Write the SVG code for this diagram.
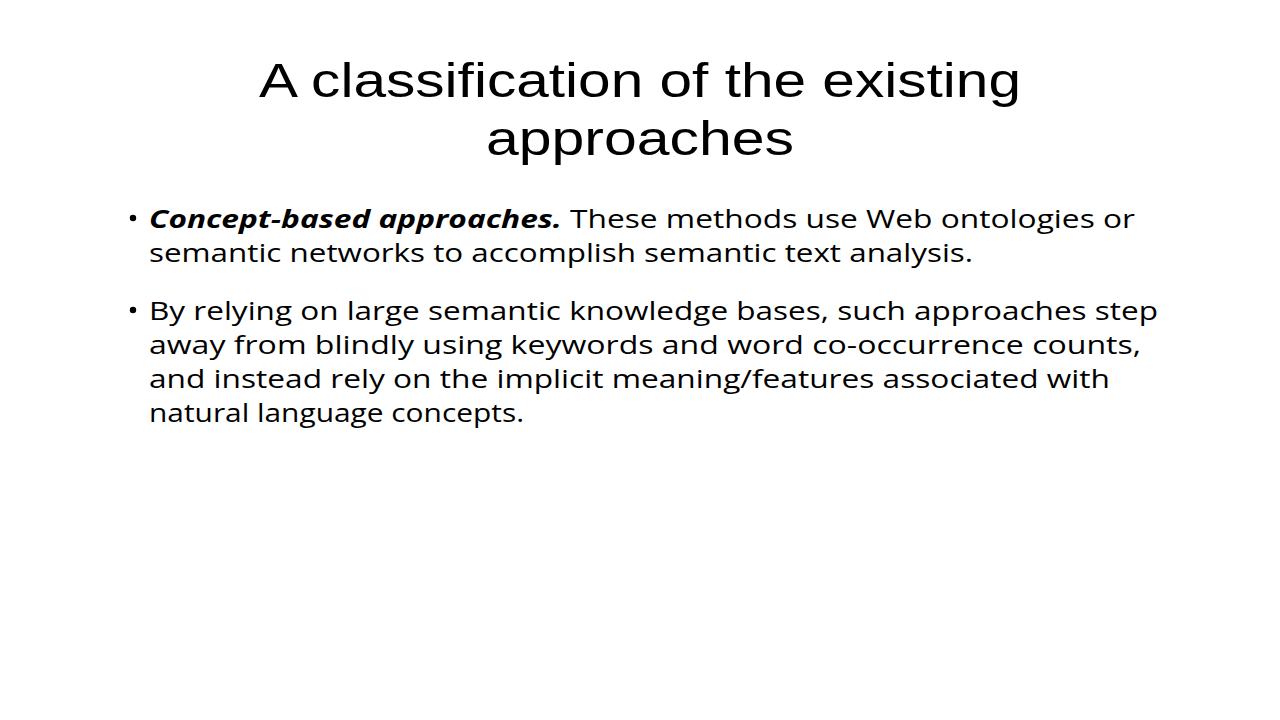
<svg xmlns="http://www.w3.org/2000/svg" width="1280" height="720" viewBox="0 0 1280 720">
<style>
.t{font-family:"Liberation Sans",Arial,sans-serif;font-size:49px;fill:#000}
.b{font-family:"Open Sans","Liberation Sans",sans-serif;font-size:25.5px;fill:#000}
</style>
<rect width="1280" height="720" fill="#fff"/>
<g id="title">
<text class="t" x="640" y="97" text-anchor="middle" textLength="762" lengthAdjust="spacingAndGlyphs">A classification of the existing</text>
<text class="t" x="640" y="155" text-anchor="middle" textLength="308" lengthAdjust="spacingAndGlyphs">approaches</text>
</g>
<g id="body">
<circle cx="133" cy="218" r="3.2" fill="#000"/>
<text class="b" x="149" y="228" textLength="986" lengthAdjust="spacingAndGlyphs"><tspan font-weight="bold" font-style="italic">Concept-based approaches.</tspan> These methods use Web ontologies or</text>
<text class="b" x="149" y="262" textLength="824" lengthAdjust="spacingAndGlyphs">semantic networks to accomplish semantic text analysis.</text>
<circle cx="133" cy="310" r="3.2" fill="#000"/>
<text class="b" x="149" y="320" textLength="1009" lengthAdjust="spacingAndGlyphs">By relying on large semantic knowledge bases, such approaches step</text>
<text class="b" x="149" y="354" textLength="992" lengthAdjust="spacingAndGlyphs">away from blindly using keywords and word co-occurrence counts,</text>
<text class="b" x="149" y="388" textLength="961" lengthAdjust="spacingAndGlyphs">and instead rely on the implicit meaning/features associated with</text>
<text class="b" x="149" y="422" textLength="375" lengthAdjust="spacingAndGlyphs">natural language concepts.</text>
</g>
</svg>
